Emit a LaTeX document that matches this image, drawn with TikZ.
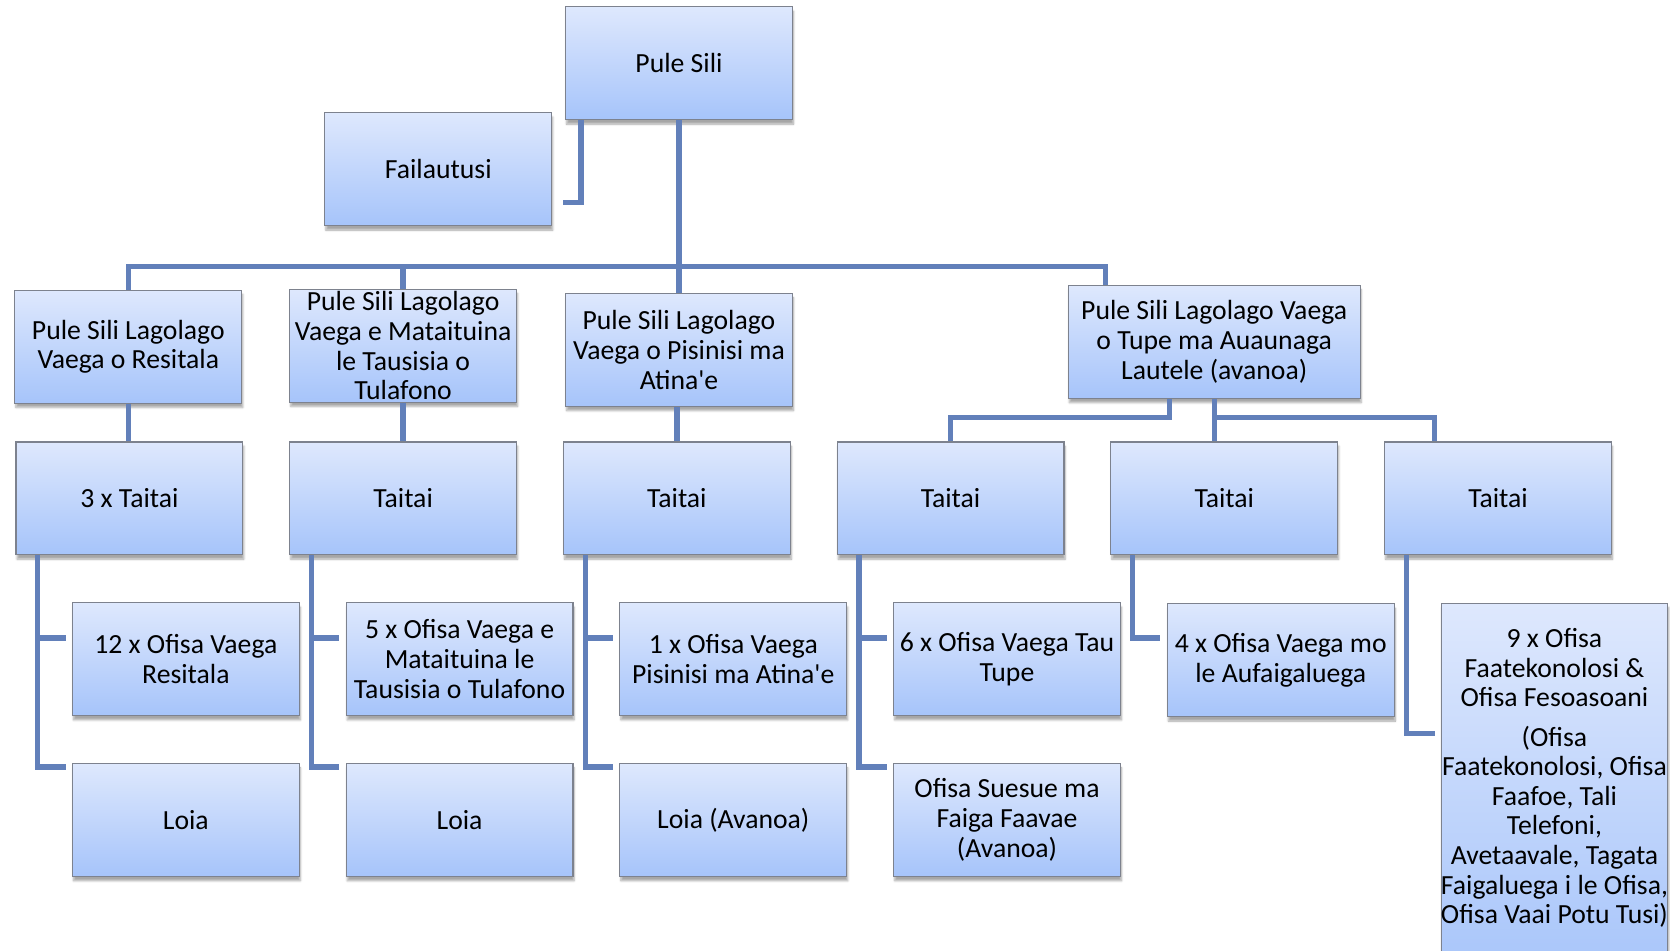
\documentclass[tikz,border=0pt]{standalone}
\usepackage{fontspec}
\setmainfont{Carlito}
\usetikzlibrary{shadows.blur}
\definecolor{boxtop}{RGB}{222,232,253}
\definecolor{boxbot}{RGB}{166,196,250}
\definecolor{boxline}{RGB}{125,130,142}
\definecolor{linkcol}{RGB}{98,128,186}
\tikzset{
  orgbox/.style={draw=boxline, line width=1pt, top color=boxtop, bottom color=boxbot,
    minimum width=213pt, minimum height=106pt, inner xsep=2pt, inner ysep=0pt,
    align=center, font=\fontsize{26}{28}\selectfont,
    blur shadow={shadow xshift=1pt, shadow yshift=-4pt, shadow blur steps=6, shadow opacity=35}},
  boxtext/.style={align=center, inner sep=0pt, font=\fontsize{26}{27.8}\selectfont},
  link/.style={draw=linkcol, line width=5pt}
}
\begin{document}
\begin{tikzpicture}[x=1pt,y=-1pt]
\useasboundingbox (0,0) rectangle (1568,892);
% top
\node[orgbox] (pule) at (637.5,59.5) {Pule Sili};
\node[orgbox] (fail) at (411.5,159) {Failautusi};
% vaega
\node[orgbox] (resit) at (120.5,325.5) {Pule Sili Lagolago\\Vaega o Resitala};
\node[orgbox] (tulaf) at (378.5,324.5) {Pule Sili Lagolago\\Vaega e Mataituina\\le Tausisia o\\Tulafono};
\node[orgbox] (pisin) at (637.5,328.5) {Pule Sili Lagolago\\Vaega o Pisinisi ma\\Atina\textquotesingle e};
\node[orgbox, minimum width=274pt] (tupe) at (1140,321) {Pule Sili Lagolago Vaega\\o Tupe ma Auaunaga\\Lautele (avanoa)};
% taitai
\node[orgbox] (taitai1) at (121.5,468) {3 x Taitai};
\node[orgbox] (taitai2) at (378.5,468) {Taitai};
\node[orgbox] (taitai3) at (635.5,468) {Taitai};
\node[orgbox] (taitai4) at (892.5,468) {Taitai};
\node[orgbox] (taitai5) at (1149.5,468) {Taitai};
\node[orgbox] (taitai6) at (1406.5,468) {Taitai};
% ofisa
\node[orgbox] (ofisa1) at (174.5,619) {12 x Ofisa Vaega\\Resitala};
\node[orgbox] (ofisa2) at (431.5,619) {5 x Ofisa Vaega e\\Mataituina le\\Tausisia o Tulafono};
\node[orgbox] (ofisa3) at (688.5,619) {1 x Ofisa Vaega\\Pisinisi ma Atina\textquotesingle e};
\node[orgbox] (ofisa4) at (945.5,619) {6 x Ofisa Vaega Tau\\Tupe};
\node[orgbox] (ofisa5) at (1202.5,620) {4 x Ofisa Vaega mo\\le Aufaigaluega};
\node[orgbox, minimum height=360pt, anchor=north] (ofisa6) at (1459.5,566) {};
\node[boxtext, anchor=north] (ofisa6txt) at ([yshift=-24pt]ofisa6.north) {9 x Ofisa\\Faatekonolosi \&\\Ofisa Fesoasoani\\[9pt](Ofisa\\Faatekonolosi, Ofisa\\Faafoe, Tali\\Telefoni,\\Avetaavale, Tagata\\Faigaluega i le Ofisa,\\Ofisa Vaai Potu Tusi)};
% loia
\node[orgbox] (loia1) at (174.5,770) {Loia};
\node[orgbox] (loia2) at (431.5,770) {Loia};
\node[orgbox] (loia3) at (688.5,770) {Loia (Avanoa)};
\node[orgbox] (suesue) at (945.5,770) {Ofisa Suesue ma\\Faiga Faavae\\(Avanoa)};
% connectors
\coordinate (bus) at (637.5,250);
\coordinate (tbus) at (1140,392);
\draw[link] ([xshift=-92pt]pule.south) |- ([xshift=10pt,yshift=-31pt]fail.east);
\draw[link] (pule.south) -- (bus);
\draw[link] (resit.north) |- (bus);
\draw[link] (tulaf.north) -- (tulaf.north |- bus);
\draw[link] (pisin.north) -- (bus);
\draw[link] (bus) -| ([xshift=-102pt]tupe.north);
\draw[link] (resit.south) -- (resit.south |- taitai1.north);
\draw[link] (tulaf.south) -- (taitai2.north);
\draw[link] (pisin.south -| taitai3.north) -- (taitai3.north);
\draw[link] ([xshift=-42pt]tupe.south) |- (taitai4.north |- tbus) -- (taitai4.north);
\draw[link] (tupe.south) -- (tupe.south |- taitai5.north);
\draw[link] (tbus) -| ([xshift=-59.5pt]taitai6.north);
\foreach \i/\lo in {1/loia1,2/loia2,3/loia3,4/suesue}{
  \draw[link] ([xshift=21pt]taitai\i.south west) |- ([xshift=-6pt,yshift=50pt]\lo.west);
  \draw[link] ([xshift=21pt]taitai\i.south west |- ofisa\i.west) ++(0,-20) -- ([xshift=-6pt,yshift=20pt]ofisa\i.west);
}
\draw[link] ([xshift=21pt]taitai5.south west) |- ([xshift=-6pt,yshift=21pt]ofisa5.west);
\draw[link] ([xshift=21pt]taitai6.south west) |- ([xshift=-5pt,yshift=58pt]ofisa6.west);
\end{tikzpicture}
\end{document}
